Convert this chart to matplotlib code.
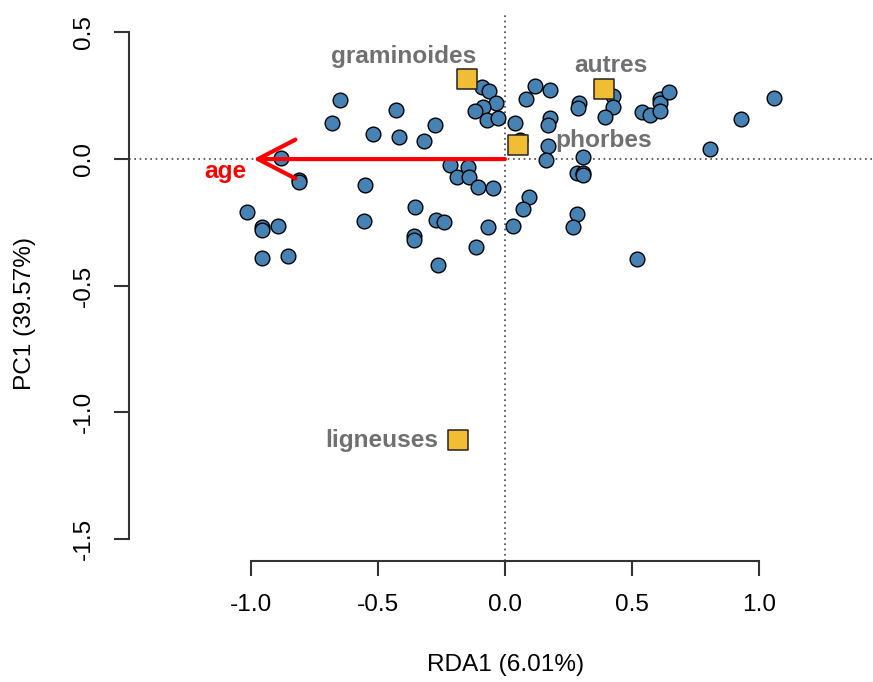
import matplotlib
matplotlib.use("Agg")
import matplotlib.pyplot as plt
from matplotlib.patches import FancyArrowPatch

plt.rcParams["font.family"] = ["Liberation Sans", "DejaVu Sans"]

# site scores (RDA1, PC1)
site_x = [-0.647, -0.427, -0.681, -0.518, -0.416, -0.275, -0.318, -0.092, -0.064, -0.035,
          -0.088, -0.118, -0.069, -0.026, 0.041, 0.083, 0.118, 0.177, 0.177, 0.170,
          0.292, 0.287, 0.426, 0.426, 0.393, 0.538, 0.570, 0.610, 0.610, 0.610,
          0.646, 1.058, 0.928, 0.807, 0.059, 0.170, 0.160, 0.308, 0.285, 0.308,
          0.308, -0.879, -0.810, -0.810, -0.549, -0.216, -0.147, -0.188, -0.140, -0.105,
          -0.046, 0.096, 0.070, 0.033, -0.067, -0.114, -0.262, -0.271, -0.240, -0.354,
          -0.357, -0.357, -0.556, -1.016, -0.957, -0.957, -0.891, -0.956, -0.855, 0.282,
          0.269, 0.518]
site_y = [0.235, 0.193, 0.144, 0.101, 0.088, 0.133, 0.072, 0.284, 0.268, 0.221,
          0.205, 0.190, 0.154, 0.164, 0.144, 0.238, 0.288, 0.271, 0.163, 0.134,
          0.220, 0.203, 0.248, 0.206, 0.166, 0.187, 0.174, 0.237, 0.220, 0.191,
          0.264, 0.240, 0.159, 0.040, 0.075, 0.051, -0.004, 0.008, -0.056, -0.056,
          -0.063, 0.003, -0.083, -0.091, -0.101, -0.024, -0.030, -0.072, -0.072, -0.111,
          -0.114, -0.151, -0.199, -0.265, -0.267, -0.346, -0.418, -0.241, -0.250, -0.191,
          -0.302, -0.320, -0.246, -0.209, -0.270, -0.280, -0.265, -0.392, -0.382, -0.217,
          -0.268, -0.395]

# functional groups
group_names = ["graminoides", "autres", "phorbes", "ligneuses"]
group_x = [-0.151, 0.389, 0.052, -0.184]
group_y = [0.315, 0.277, 0.055, -1.109]

# environmental vector
env_name = "age"
env_x = -1.0
env_y = 0.0

x_ticks = [-1.0, -0.5, 0.0, 0.5, 1.0]
y_ticks = [-1.5, -1.0, -0.5, 0.0, 0.5]
x_label = "RDA1 (6.01%)"
y_label = "PC1 (39.57%)"

W, H = 873, 682
fig = plt.figure(figsize=(W / 100, H / 100), dpi=100)
left, right, top, bottom = 129.3, 873, 12.7, 561
ax = fig.add_axes([left / W, 1 - bottom / H, (right - left) / W, (bottom - top) / H])
ax.set_xlim(-1.477, 1.447)
ax.set_ylim(-1.587, 0.578)

ax.axhline(0, color="#444444", lw=1.2, ls=(0, (1, 2.2)), zorder=1)
ax.axvline(0, color="#444444", lw=1.2, ls=(0, (1, 2.2)), zorder=1)

ax.scatter(site_x, site_y, s=112, c="#4682B4", edgecolors="black", linewidths=1.0, zorder=3)

arrow = FancyArrowPatch((0, 0), (env_x, env_y),
                        arrowstyle="->,head_length=1.35,head_width=0.7",
                        mutation_scale=20, color="red", lw=3.0, zorder=4,
                        shrinkA=0, shrinkB=-2)
ax.add_patch(arrow)
ax.text(env_x - 0.100, env_y - 0.075, env_name, color="red", fontsize=17.6,
        fontweight="bold", ha="center", va="baseline", zorder=5)

ax.scatter(group_x, group_y, s=210, marker="s", c="#F0BD34", edgecolors="#222222",
           linewidths=1.1, zorder=5)

# label placement next to each square: (dx, dy, ha)
label_pos = {
    "graminoides": (-0.248, 0.064, "center"),
    "autres": (0.029, 0.068, "center"),
    "phorbes": (0.145, -0.006, "left"),
    "ligneuses": (-0.078, -0.027, "right"),
}
for name, gx, gy in zip(group_names, group_x, group_y):
    dx, dy, ha = label_pos[name]
    ax.text(gx + dx, gy + dy, name, color="#707070", fontsize=17.6, fontweight="bold",
            ha=ha, va="baseline", zorder=6)

for side in ["top", "right"]:
    ax.spines[side].set_visible(False)
ax.spines["left"].set_bounds(-1.5, 0.5)
ax.spines["bottom"].set_bounds(-1.0, 1.0)
for side in ["left", "bottom"]:
    ax.spines[side].set_color("#333333")
    ax.spines[side].set_linewidth(1.5)

ax.set_xticks(x_ticks)
ax.set_xticklabels([f"{v:.1f}" for v in x_ticks])
ax.set_yticks(y_ticks)
ax.set_yticklabels([f"{v:.1f}" for v in y_ticks], rotation=90, va="center")
ax.tick_params(length=11, width=1.5, color="#333333", labelsize=17.6)
ax.tick_params(axis="x", pad=13)
ax.tick_params(axis="y", pad=14)

fig.text(506 / W, 1 - 665 / H, x_label, fontsize=17.6, ha="center", va="center")
fig.text(25 / W, 1 - 313 / H, y_label, fontsize=17.6, ha="center", va="center", rotation=90)

fig.savefig("out.png", dpi=100)
